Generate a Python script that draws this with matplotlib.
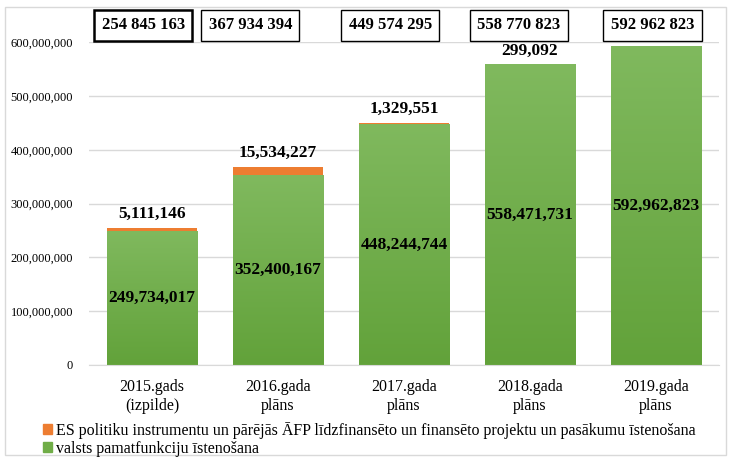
import numpy as np
import matplotlib.pyplot as plt
from matplotlib.patches import Patch, Rectangle
from matplotlib.colors import LinearSegmentedColormap

plt.rcParams['font.family'] = ['Liberation Serif', 'DejaVu Serif']

# Data
categories = ["2015.gads\n(izpilde)", "2016.gada\nplāns", "2017.gada\nplāns",
              "2018.gada\nplāns", "2019.gada\nplāns"]
pamatfunkcijas = [249734017, 352400167, 448244744, 558471731, 592962823]
es_projekti = [5111146, 15534227, 1329551, 299092, 0]
legend_labels = ["ES politiku instrumentu un pārējās ĀFP līdzfinansēto un finansēto projektu un pasākumu īstenošana",
                 "valsts pamatfunkciju īstenošana"]

green = "#70AD47"
orange = "#ED7D31"

fig = plt.figure(figsize=(7.32, 4.63), dpi=100)
ax = fig.add_axes([0.1216, 0.2117, 0.8607, 0.6973])

x = np.arange(len(categories))
width = 0.72
bars_g = ax.bar(x, pamatfunkcijas, width, color=green, zorder=2)
bars_o = ax.bar(x, es_projekti, width, bottom=pamatfunkcijas, color=orange, zorder=2)

# gradient fill on the green bars (Excel style)
cmap = LinearSegmentedColormap.from_list("g", ["#62A23A", "#80B95E"])
grad = np.linspace(0, 1, 256).reshape(-1, 1)
for b in bars_g:
    x0, w, h = b.get_x(), b.get_width(), b.get_height()
    im = ax.imshow(grad, cmap=cmap, aspect='auto', origin='lower',
                   extent=[x0, x0 + w, 0, h], zorder=2.5)
    im.set_clip_path(b)

ax.set_xlim(-0.5, len(categories) - 0.5)
ax.set_ylim(0, 600000000)
ax.set_yticks(np.arange(0, 600000001, 100000000))
ax.yaxis.set_major_formatter(plt.FuncFormatter(lambda v, p: f"{int(v):,}"))
ax.set_xticks(x)
ax.set_xticklabels(categories, fontsize=11.5, linespacing=1.3)
ax.tick_params(axis='y', labelsize=9, length=0, pad=11.5)
ax.tick_params(axis='x', length=0, pad=10)
ax.grid(axis='y', color='#D9D9D9', linewidth=1, zorder=0)
for s in ['top', 'right', 'left']:
    ax.spines[s].set_visible(False)
ax.spines['bottom'].set_color('#D9D9D9')

# value labels
for i in range(len(categories)):
    ax.text(x[i], pamatfunkcijas[i] / 2, f"{pamatfunkcijas[i]:,}", ha='center', va='center',
            fontsize=12.5, fontweight='bold', zorder=5)
    if es_projekti[i] > 0:
        top = pamatfunkcijas[i] + es_projekti[i]
        ax.annotate(f"{es_projekti[i]:,}", (x[i], top), xytext=(0, 10), textcoords='offset points',
                    ha='center', va='center', fontsize=12.5, fontweight='bold', zorder=5)

# totals in boxes above the plot
box_shift = [-0.07, -0.22, -0.11, -0.09, -0.03]
for i in range(len(categories)):
    total = pamatfunkcijas[i] + es_projekti[i]
    txt = f"{total:,}".replace(",", " ")
    lw = 1.8 if i == 0 else 1.0
    ax.text(x[i] + box_shift[i], 1.053, txt, transform=ax.get_xaxis_transform(),
            ha='center', va='center', fontsize=12, fontweight='bold',
            bbox=dict(boxstyle='square,pad=0.45', facecolor='white', edgecolor='black', linewidth=lw),
            zorder=6, clip_on=False)

handles = [Patch(color=orange), Patch(color=green)]
fig.legend(handles, legend_labels, loc='lower left', bbox_to_anchor=(0.05, 0.0),
           frameon=False, fontsize=11.5, handlelength=0.55, handleheight=0.55,
           handletextpad=0.25, labelspacing=0.12, borderaxespad=0.0)

fig.patches.append(Rectangle((5 / 732, 8 / 463), 721 / 732, 448 / 463, transform=fig.transFigure,
                             fill=False, edgecolor='#D9D9D9', linewidth=1))

fig.savefig("out.png", dpi=100)
